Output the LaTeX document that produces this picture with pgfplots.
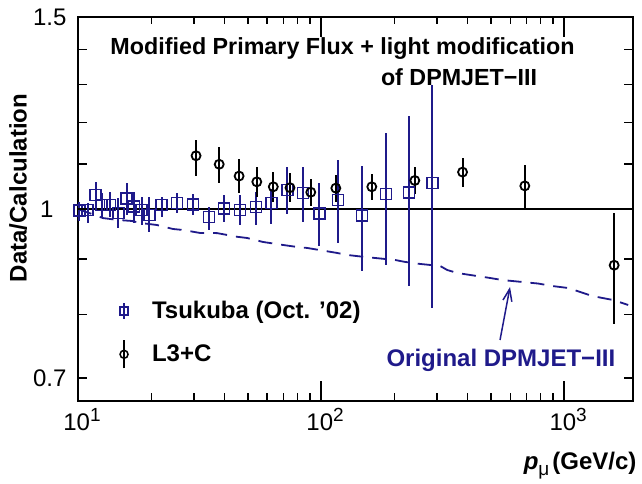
\documentclass[border=0pt]{standalone}
\usepackage{fontspec}
\setmainfont{Liberation Sans}
\usepackage{pgfplots}
\pgfplotsset{compat=1.18}
\usepackage{pgfplotstable}
\usetikzlibrary{arrows.meta}
\definecolor{navy}{RGB}{31,26,138}
\newcommand{\fs}{\fontsize{24}{28}\selectfont}
\newcommand{\ft}{\fontsize{23.3}{28}\selectfont}
\newcommand{\tp}[1]{10\raisebox{9pt}{\fontsize{19}{19}\selectfont #1}}

\pgfplotstableread{
x y lo hi
10.12 0.997 0.975 1.015
10.96 0.998 0.971 1.013
11.82 1.030 1.002 1.059
12.52 1.008 0.981 1.034
13.54 1.008 0.983 1.037
14.65 0.992 0.961 1.023
15.86 1.022 0.987 1.056
17.0 1.005 0.971 1.037
18.29 0.998 0.967 1.026
19.65 0.987 0.953 1.026
22.1 1.008 0.983 1.026
25.55 1.013 0.992 1.034
29.74 1.010 0.987 1.032
34.67 0.983 0.957 1.004
39.96 1.001 0.973 1.030
46.4 0.998 0.967 1.030
54.0 1.004 0.967 1.037
62.45 1.013 0.969 1.043
72.66 1.041 0.990 1.092
84.35 1.034 0.973 1.092
98.3 0.991 0.924 1.057
117.2 1.019 0.930 1.109
147.5 0.986 0.878 1.095
184.6 1.032 0.888 1.175
230.1 1.035 0.849 1.217
287.1 1.056 0.812 1.300
}\tsukuba

\pgfplotstableread{
x y lo hi
30.6 1.119 1.072 1.157
38.1 1.099 1.057 1.141
46.0 1.072 1.035 1.111
54.4 1.059 1.025 1.093
63.6 1.048 1.014 1.082
74.5 1.046 1.015 1.079
90.7 1.036 1.006 1.065
115 1.045 1.014 1.074
161.7 1.048 1.019 1.076
243 1.062 1.033 1.093
382 1.081 1.048 1.114
689 1.050 0.999 1.097
1606 0.888 0.785 0.991
}\lthree

\pgfplotstableread{
x y
10.0 0.999
10.19 0.998
11.42 0.9895
12.67 0.981
14.61 0.977
16.68 0.975
17.99 0.971
21.14 0.9667
24.6 0.9586
27.05 0.9566
31.77 0.9506
37.33 0.9503
45.1 0.943
49.6 0.9406
57.7 0.9327
69.8 0.9268
79.6 0.9229
87.6 0.921
103.9 0.9152
116.4 0.9113
127.9 0.9075
151.7 0.9036
201.6 0.8979
221.7 0.8942
255.6 0.8904
308.9 0.8866
330 0.8792
362.8 0.8736
410.6 0.8699
496.2 0.8644
555.7 0.8607
678.2 0.8570
781.7 0.8543
892.5 0.8499
1039 0.8463
1164 0.8392
1304 0.8321
1591 0.8251
1834 0.8165
}\dpm

\begin{document}
\begin{tikzpicture}
\path (0,0) rectangle (642pt,484pt);
\begin{axis}[
  at={(78pt,83pt)}, anchor=south west,
  scale only axis, width=555pt, height=384pt,
  xmode=log, ymode=log,
  xmin=10, xmax=1920, ymin=0.66667, ymax=1.5,
  axis line style={line width=2pt},
  tick align=inside,
  major tick length=0pt, minor tick length=0pt,
  xtick={10,100,1000}, xticklabels={\tp{1},\tp{2},\tp{3}},
  ytick={0.7,1,1.5}, yticklabels={0.7,1\kern13pt,1.5},
  minor ytick={0.8,0.9,1.1,1.2,1.3,1.4},
  ticklabel style={font=\fs},
  yticklabel style={xshift=-8pt},
  xticklabel style={yshift=-4pt, xshift=4pt},
  xlabel={\textbf{\textit{p}}\raisebox{-6pt}{\fontsize{19}{19}\selectfont μ}\kern3pt\textbf{(GeV/c)}},
  xlabel style={font=\fs, at={(axis description cs:1.0126,-0.169)}, anchor=east},
  ylabel={Data/Calculation},
  ylabel style={font=\fs\bfseries, at={(axis description cs:-0.108,0.5547)}, anchor=center},
  legend style={draw=none, fill=none, font=\fs\bfseries,
    at={(axis description cs:0.07,0.27)}, anchor=north west,
    row sep=17pt, /tikz/every odd column/.append style={column sep=22pt}},
  legend cell align=left,
]
\addplot[black, line width=2pt, forget plot] coordinates {(10,1) (1920,1)};
\addplot[navy, line width=1.8pt, dash pattern=on 14pt off 9pt, forget plot] table[x=x,y=y] {\dpm};
\addplot[navy, only marks, mark=square, mark size=5.5pt, line width=1.5pt, forget plot,
  error bars/.cd, y dir=both, y explicit, error mark=none,
  error bar style={line width=2pt, navy}]
  table[x=x, y=y, y error plus expr=\thisrow{hi}-\thisrow{y}, y error minus expr=\thisrow{y}-\thisrow{lo}] {\tsukuba};
\addplot[black, only marks, mark=o, mark size=4.5pt, line width=1.8pt, forget plot,
  error bars/.cd, y dir=both, y explicit, error mark=none,
  error bar style={line width=2pt, black}]
  table[x=x, y=y, y error plus expr=\thisrow{hi}-\thisrow{y}, y error minus expr=\thisrow{y}-\thisrow{lo}] {\lthree};

\addlegendimage{legend image code/.code={
  \draw[navy,line width=1.5pt] (0pt,-8pt) -- (0pt,8pt);
  \draw[navy,line width=1.5pt,mark=square,mark size=4pt] plot coordinates {(0pt,0pt)};}}
\addlegendentry{Tsukuba (Oct. ’02)}
\addlegendimage{legend image code/.code={
  \draw[black,line width=1.8pt] (0pt,-14pt) -- (0pt,14pt);
  \draw[black,line width=1.5pt,mark=o,mark size=4pt] plot coordinates {(0pt,0pt)};}}
\addlegendentry{L3+C}

\node[font=\ft\bfseries] at (axis description cs:0.4766,0.919) {Modified Primary Flux + light modification};
\node[font=\ft\bfseries] at (axis description cs:0.6865,0.8438) {of DPMJET−III};
\node[font=\fs\bfseries, text=navy] at (axis description cs:0.762,0.1068) {Original DPMJET−III};
\draw[navy, line width=1.5pt, -{Straight Barb[length=12pt, width=9pt]}]
  (axis description cs:0.7604,0.1589) -- (axis description cs:0.7784,0.2969);
\end{axis}
% frame tick marks (axis frame: x 78pt..633pt, y 83pt..467pt)
\foreach \t in {151.17,193.97,224.34,247.90,267.14,283.42,297.51,309.95,
                394.24,437.04,467.41,490.97,510.21,526.49,540.58,553.02}{
  \draw[black, line width=1.3pt] (\t pt,83pt) -- (\t pt,90.5pt);
  \draw[black, line width=1.3pt] (\t pt,467pt) -- (\t pt,459.5pt);
}
\foreach \t in {321.07,564.14}{
  \draw[black, line width=1.3pt] (\t pt,83pt) -- (\t pt,103pt);
  \draw[black, line width=1.3pt] (\t pt,467pt) -- (\t pt,447pt);
}
\foreach \t in {106.10,169.33,225.11,275.00,320.13,361.34,399.24,434.33}{
  \draw[black, line width=1.3pt] (78pt,\t pt) -- (87pt,\t pt);
  \draw[black, line width=1.3pt] (633pt,\t pt) -- (624pt,\t pt);
}
\end{tikzpicture}
\end{document}
